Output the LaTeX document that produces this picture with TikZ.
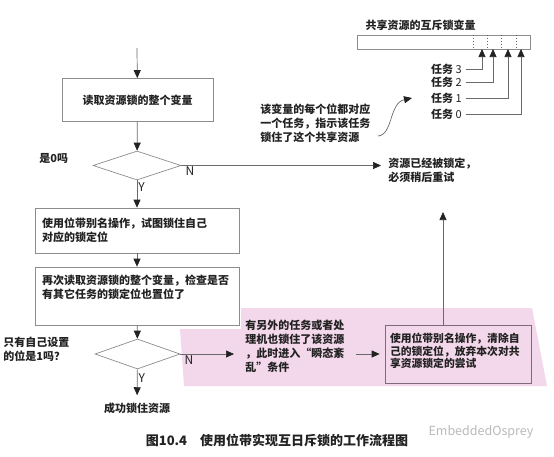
\documentclass[tikz,border=0pt]{standalone}
\usepackage{fontspec}
\setmainfont{Noto Sans CJK SC}
\usetikzlibrary{arrows.meta,positioning,shapes.geometric,calc}
\definecolor{frame}{HTML}{8C8C8C}
\definecolor{wire}{HTML}{6A6A6A}
\definecolor{blush}{HTML}{F3D7EA}
\definecolor{plum}{HTML}{7D6B7B}
\definecolor{ink}{HTML}{222222}
\tikzset{
  every picture/.style={x=1pt, y=-1pt, line width=0.7pt},
  every node/.append style={text=ink, font=\fontsize{11}{14}\selectfont\bfseries},
  stepbox/.style={draw=frame, fill=white, inner xsep=7pt, inner ysep=0pt, align=left, text width=#1},
  stepbox/.default=190pt,
  plainbox/.style={draw=frame, fill=white, inner sep=0pt, minimum width=#1},
  plainbox/.default=151pt,
  decide/.style={diamond, draw=frame, fill=white, inner sep=0pt, minimum width=88pt, minimum height=29pt},
  arrow/.style={draw=wire, -{Triangle[length=8pt, width=7pt, ink]}},
  yn/.style={font=\fontsize{12}{12}\selectfont, inner sep=1pt},
  lbl/.style={align=left, inner sep=2pt},
}

\begin{document}
\begin{tikzpicture}
  \useasboundingbox (0,0) rectangle (554,456);
  % pink zone behind the retry branch
  \fill[blush] (180,329) -- (241,329) -- (241,308) -- (532,308) -- (547,386) -- (184,386) -- cycle;

  % main flow
  \coordinate (start) at (137,48);
  \node[plainbox, minimum height=43pt] (read) at (137.5,100) {读取资源锁的整个变量};
  \node[decide] (iszero) at (137,165.5) {};
  \node[lbl, anchor=west] (iszerolbl) at (37,158) {是0吗};
  \node[stepbox, minimum height=45pt] (trylock) at (137,230.5) {使用位带别名操作，试图锁住自己\\对应的锁定位};
  \node[stepbox, minimum height=58pt, text depth=32pt] (reread) at (137,296) {再次读取资源锁的整个变量，检查是否\\有其它任务的锁定位也置位了};
  \node[decide, minimum width=85pt, minimum height=30pt] (onlyme) at (137.5,354) {};
  \node[lbl, anchor=west] (onlymelbl) at (1,349) {只有自己设置\\的位是1吗？};
  \node[lbl] (success) at (137,408) {成功锁住资源};

  % side branches
  \node[lbl, anchor=west] (locked) at (386,170) {资源已经被锁定，\\必须稍后重试};
  \node[lbl, anchor=west] (glitch) at (243,346) {有另外的任务或者处\\理机也锁住了该资源\\，此时进入“瞬态紊\\乱”条件};
  \node[stepbox=136pt, draw=plum, fill=none, inner xsep=5pt, minimum height=58pt, text depth=33pt,
        font=\fontsize{10.8}{12.8}\selectfont\bfseries] (release) at (458,354) {使用位带别名操作，清除自\\己的锁定位，放弃本次对共\\享资源锁定的尝试};
  \coordinate (retry) at (443,212);

  % lock variable
  \node[lbl] (reglbl) at (420.5,25) {共享资源的互斥锁变量};
  \node[draw=frame, minimum width=173pt, minimum height=14pt, inner sep=0pt] (reg) at (443.5,42) {};
  \foreach \k in {1,...,4}
    \draw[wire, line width=0.5pt, dash pattern=on 1.5pt off 1.5pt] ($(reg.north east)+(-14.4*\k,0)$) -- ($(reg.south east)+(-14.4*\k,0)$);
  \foreach \i/\x/\y in {3/482/69, 2/493/82, 1/508/98, 0/521/114} {
    \node[lbl, font=\fontsize{11}{14}\selectfont, anchor=east] (task\i) at (464,\y) {\textbf{任务} \i};
    \coordinate (bit\i) at (\x,49);
    \draw[arrow, shorten <=2pt] (task\i.east) -| (bit\i);
  }
  \node[lbl, anchor=west] (note) at (258,123) {该变量的每个位都对应\\一个任务，指示该任务\\锁住了这个共享资源};
  \coordinate (curvestart) at (378,136);
  \coordinate (curveend) at (412,98);

  % connectors
  \draw[arrow] (start) -- (read);
  \draw[arrow] (read) -- (iszero);
  \draw[arrow] (iszero) -- node[yn, pos=0.25, right] {Y} (trylock);
  \draw[arrow, shorten >=5pt] (iszero.east) -- node[yn, pos=0, below right, xshift=3pt] {N} (iszero.east -| locked.west);
  \draw[arrow] (trylock) -- (reread);
  \draw[arrow] (reread) -- (onlyme);
  \draw[arrow, shorten >=5pt] (onlyme) -- node[yn, pos=0.3, right] {Y} (success);
  \draw[arrow, shorten >=9pt] (onlyme.east) -- node[yn, pos=0, below right, xshift=3pt] {N} (onlyme.east -| glitch.west);
  \draw[arrow, shorten <=9pt, shorten >=5pt] (glitch.east |- release.west) -- (release.west);
  \draw[arrow] (retry |- release.north) -- (retry);
  \draw[arrow] (curvestart) .. controls (393,135) and (389,103) .. (curveend);

  % caption
  \node[font=\fontsize{13}{13}\selectfont\bfseries] (caption) at (277,440) {图10.4\quad 使用位带实现互日斥锁的工作流程图};
  \node[font=\fontsize{12.5}{12}\selectfont, text=gray!55] (mark) at (481,432) {EmbeddedOsprey};
\end{tikzpicture}
\end{document}
